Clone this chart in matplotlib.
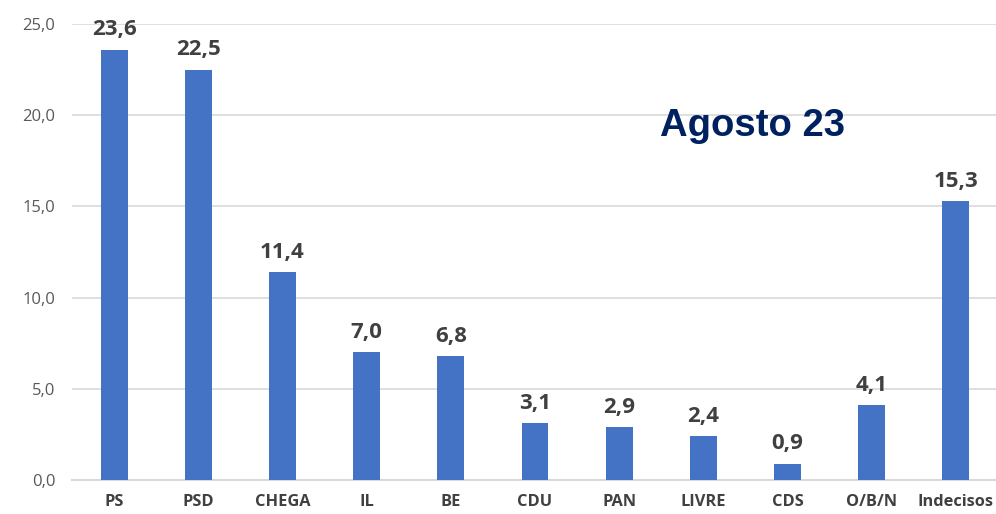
import matplotlib
matplotlib.use('Agg')
import matplotlib.pyplot as plt
import numpy as np

# Intenções de voto, Agosto 23
partidos = ['PS', 'PSD', 'CHEGA', 'IL', 'BE', 'CDU', 'PAN', 'LIVRE', 'CDS', 'O/B/N', 'Indecisos']
valores = [23.6, 22.5, 11.4, 7.0, 6.8, 3.1, 2.9, 2.4, 0.9, 4.1, 15.3]
yticks = [0, 5, 10, 15, 20, 25]

plt.rcParams['font.family'] = ['Open Sans', 'DejaVu Sans']

fig = plt.figure(figsize=(9.96, 5.14), dpi=100)
ax = fig.add_axes([72/996, 1 - 480/514, 926/996, (480-24)/514])

x = np.arange(len(partidos))
ax.bar(x, valores, width=0.32, color='#4472C4', zorder=3)

for xi, v in zip(x, valores):
    ax.text(xi, v + 0.5, ('%.1f' % v).replace('.', ','), ha='center', va='bottom',
            fontsize=16, fontweight='bold', color='#404040')

ax.set_xlim(-0.5, len(partidos) - 0.5)
ax.set_ylim(0, 25)
ax.set_yticks(yticks)
ax.set_yticklabels([('%.1f' % t).replace('.', ',') for t in yticks], fontsize=12, color='#595959')
ax.set_xticks(x)
ax.set_xticklabels(partidos, fontsize=11.8, fontweight='bold', color='#404040')
ax.tick_params(axis='both', length=0)
ax.tick_params(axis='y', pad=12)
ax.tick_params(axis='x', pad=10)
ax.yaxis.grid(True, color='#D9D9D9', linewidth=1.2, zorder=0)
for s in ['top', 'right', 'left']:
    ax.spines[s].set_visible(False)
ax.spines['bottom'].set_color('#D9D9D9')
ax.spines['bottom'].set_linewidth(1.5)

fig.text(752/996, 1 - 126/514, 'Agosto 23', ha='center', va='center',
         fontsize=27.5, fontweight='bold', color='#002060', family='Liberation Sans')

fig.savefig('out.png', dpi=100)
